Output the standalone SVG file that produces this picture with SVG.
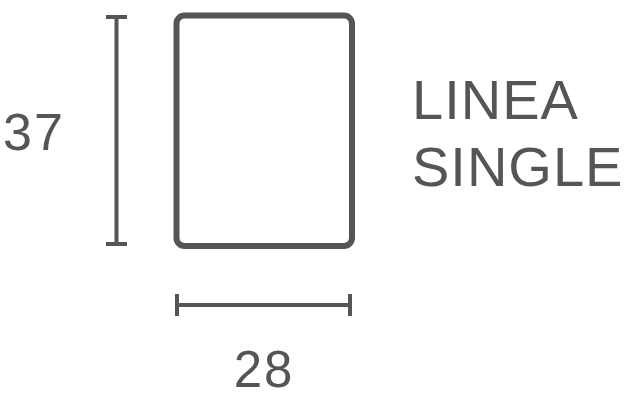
<svg xmlns="http://www.w3.org/2000/svg" width="632" height="400" viewBox="0 0 632 400">
<style>
.dim{stroke:#555;stroke-width:4;fill:none}
.t{font-family:"Liberation Sans",Arial,sans-serif;fill:#555}
</style>
<rect width="632" height="400" fill="#fff"/>
<g id="panel">
<rect x="176.5" y="15.5" width="175.5" height="230.5" rx="8" ry="8" fill="#fff" stroke="#555" stroke-width="6"/>
</g>
<g id="connectors">
<line class="dim" x1="116.5" y1="17" x2="116.5" y2="244"/>
<line class="dim" x1="106" y1="17" x2="127" y2="17"/>
<line class="dim" x1="106" y1="244" x2="127" y2="244"/>
<line class="dim" x1="177" y1="305" x2="350" y2="305"/>
<line class="dim" x1="177" y1="294" x2="177" y2="316"/>
<line class="dim" x1="350" y1="294" x2="350" y2="316"/>
</g>
<g id="labels">
<text class="t" x="34" y="150" font-size="52" text-anchor="middle" letter-spacing="2">37</text>
<text class="t" x="264" y="387" font-size="51" text-anchor="middle" letter-spacing="2">28</text>
<text class="t" x="412" y="119" font-size="56" letter-spacing="1">LINEA</text>
<text class="t" x="412" y="186" font-size="56" letter-spacing="1">SINGLE</text>
</g>
</svg>
